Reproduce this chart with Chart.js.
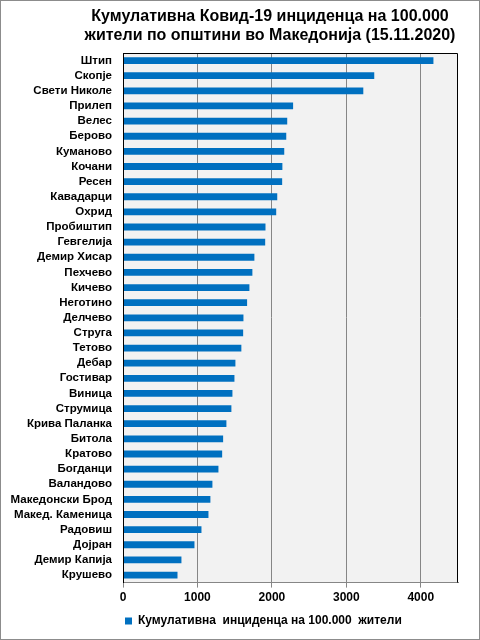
<!DOCTYPE html>
<html>
<head>
<meta charset="utf-8">
<script src="https://cdn.jsdelivr.net/npm/chart.js@4/dist/chart.umd.min.js"></script>
<style>
  body { margin: 0; background: #fff; }
  canvas { display: block; }
</style>
</head>
<body>
<canvas id="chartBar" width="480" height="640"></canvas>
<script>
// opstini i vrednosti (kumulativna incidenca na 100.000 ziteli)
const opstini = [
  "Штип", "Скопје", "Свети Николе", "Прилеп", "Велес", "Берово", "Куманово",
  "Кочани", "Ресен", "Кавадарци", "Охрид", "Пробиштип", "Гевгелија",
  "Демир Хисар", "Пехчево", "Кичево", "Неготино", "Делчево", "Струга",
  "Тетово", "Дебар", "Гостивар", "Виница", "Струмица", "Крива Паланка",
  "Битола", "Кратово", "Богданци", "Валандово", "Македонски Брод",
  "Макед. Каменица", "Радовиш", "Дојран", "Демир Капија", "Крушево"
];
const incidenca = [
  4170, 3375, 3228, 2285, 2206, 2193, 2166,
  2141, 2138, 2072, 2058, 1914, 1910,
  1765, 1738, 1698, 1667, 1618, 1614,
  1590, 1510, 1497, 1470, 1456, 1389,
  1345, 1332, 1282, 1201, 1174,
  1148, 1054, 960, 785, 732
];
const xTicks = [0, 1000, 2000, 3000, 4000];
const naslov = [
  "Кумулативна Ковид-19 инциденца на 100.000",
  "жители по општини во Македонија (15.11.2020)"
];
const legenda = "Кумулативна  инциденца на 100.000  жители";

const familija = "Arial, 'Liberation Sans', sans-serif";

// pozadina, ramka i naslov
const ramka = {
  id: "ramka",
  beforeDraw(chart) {
    const { ctx, chartArea: a } = chart;
    ctx.save();
    ctx.fillStyle = "#f2f2f2";
    ctx.fillRect(a.left, a.top, a.right - a.left, a.bottom - a.top);
    ctx.restore();
  },
  afterDraw(chart) {
    const { ctx, chartArea: a, width, height } = chart;
    ctx.save();
    ctx.strokeStyle = "#000";
    ctx.lineWidth = 1;
    ctx.beginPath();
    ctx.moveTo(a.left + 0.5, a.bottom);
    ctx.lineTo(a.left + 0.5, a.top + 0.5);
    ctx.lineTo(a.right - 0.5, a.top + 0.5);
    ctx.lineTo(a.right - 0.5, a.bottom);
    ctx.stroke();
    ctx.strokeStyle = "#8c8c8c";
    ctx.strokeRect(0.5, 0.5, width - 1, height - 1);
    // naslov
    ctx.fillStyle = "#000";
    ctx.font = "bold 16px " + familija;
    ctx.textAlign = "center";
    ctx.textBaseline = "alphabetic";
    naslov.forEach((linija, i) => {
      ctx.fillText(linija, 270, 21 + i * 19);
    });
    ctx.restore();
  }
};

const fontBold = { family: familija, size: 12, weight: "bold" };

new Chart(document.getElementById("chartBar"), {
  type: "bar",
  data: {
    labels: opstini,
    datasets: [{
      label: legenda,
      data: incidenca,
      backgroundColor: "#0070c0",
      borderWidth: 0,
      categoryPercentage: 1,
      barPercentage: 0.45
    }]
  },
  options: {
    indexAxis: "y",
    responsive: false,
    animation: false,
    layout: { padding: { left: 0, right: 22, top: 53, bottom: 3 } },
    plugins: {
      title: { display: false },
      legend: {
        position: "bottom",
        align: "start",
        fullSize: false,
        labels: {
          color: "#000",
          font: fontBold,
          boxWidth: 7,
          boxHeight: 7,
          padding: 2
        }
      },
      tooltip: { enabled: false }
    },
    scales: {
      x: {
        min: 0,
        max: 4500,
        afterBuildTicks: (scale) => {
          scale.ticks = xTicks.map((v) => ({ value: v }));
        },
        afterFit: (scale) => { scale.height += 5; },
        grid: { color: "#868686", tickLength: 5, drawOnChartArea: true },
        border: { color: "#868686" },
        ticks: {
          color: "#000",
          font: fontBold,
          padding: 3,
          callback: (v) => String(v)
        }
      },
      y: {
        afterFit: (scale) => { scale.width = 123; },
        grid: { display: false },
        border: { color: "#000" },
        ticks: {
          color: "#000",
          font: { family: familija, size: 11.5, weight: "bold" },
          padding: 3,
          autoSkip: false
        }
      }
    }
  },
  plugins: [ramka]
});
</script>
</body>
</html>
